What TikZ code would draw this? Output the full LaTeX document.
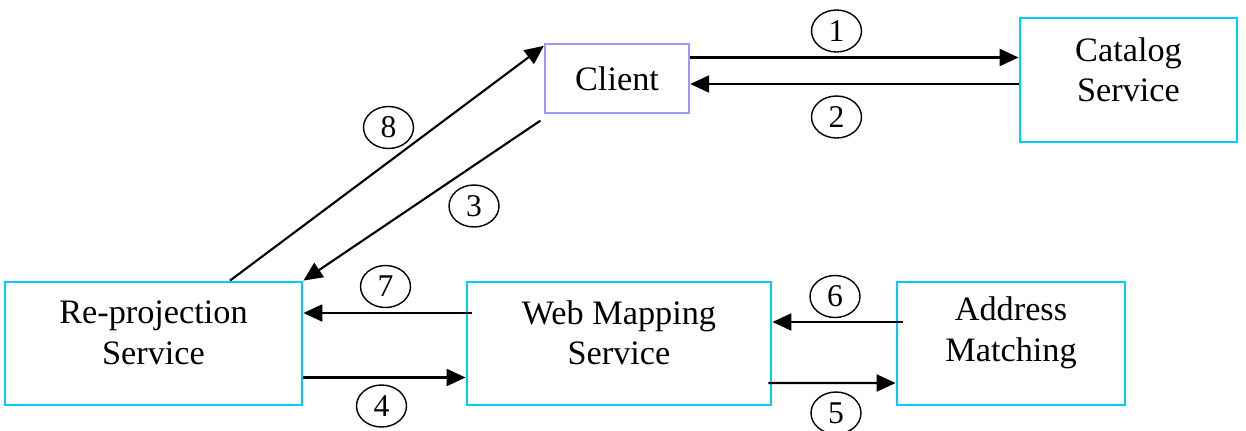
\documentclass[tikz,border=0pt]{standalone}
\usepackage{fontspec}
\setmainfont{Liberation Serif}
\usetikzlibrary{arrows.meta,shapes.geometric}
\definecolor{svccyan}{RGB}{0,204,255}
\definecolor{clientblue}{RGB}{153,153,255}

\begin{document}
\begin{tikzpicture}[
  svc box/.style={draw=svccyan, line width=1.6pt, minimum height=2.46cm},
  client box/.style={draw=clientblue, line width=1.3pt, minimum width=2.88cm, minimum height=1.38cm, font=\fontsize{19.5}{23}\selectfont},
  box text/.style={align=center, font=\fontsize{19.5}{23}\selectfont},
  step num/.style={ellipse, draw, line width=0.8pt, minimum width=1.0cm, minimum height=0.84cm, inner sep=0pt, font=\fontsize{18}{20}\selectfont},
  flow/.style={-{Triangle[length=0.38cm,width=0.34cm]}, line width=1.2pt}]

  \useasboundingbox (0,0) rectangle (24.92,-8.6);

  % services
  \node[client box] (client) at (12.34,-1.57) {Client};
  \node[svc box, minimum width=4.34cm, minimum height=2.48cm] (catalog) at (22.57,-1.6) {};
  \node[svc box, minimum width=5.94cm] (reproj) at (3.07,-6.87) {};
  \node[svc box, minimum width=6.08cm] (wms) at (12.38,-6.87) {};
  \node[svc box, minimum width=4.56cm] (address) at (20.22,-6.87) {};

  \node[box text] (catalogtext) at ([yshift=0.2cm]catalog.center) {Catalog\\Service};
  \node[box text] (reprojtext) at ([yshift=0.21cm]reproj.center) {Re-projection\\Service};
  \node[box text] (wmstext) at ([yshift=0.21cm]wms.center) {Web Mapping\\Service};
  \node[box text] (addresstext) at ([yshift=0.21cm]address.center) {Address\\Matching};

  % request order
  \node[step num] (n1) at (16.73,-0.62) {1};
  \node[step num] (n2) at (16.73,-2.34) {2};
  \node[step num] (n3) at (9.48,-4.12) {3};
  \node[step num] (n4) at (7.63,-8.12) {4};
  \node[step num] (n5) at (16.72,-8.26) {5};
  \node[step num] (n6) at (16.7,-5.93) {6};
  \node[step num] (n7) at (7.71,-5.73) {7};
  \node[step num] (n8) at (7.77,-2.55) {8};

  \draw[flow] ([yshift=0.42cm]client.east) -- ([yshift=0.42cm]client.east -| catalog.west);
  \draw[flow] ([yshift=-0.08cm]catalog.west) -- ([yshift=-0.08cm]catalog.west -| client.east);

  \draw[flow] ([shift={(-0.07,-0.13)}]client.south west) -- (reproj.north east);
  \draw[flow] ([xshift=1.53cm]reproj.north) -- ([yshift=-0.06cm]client.north west);

  \draw[flow] ([shift={(0.12,0.61)}]wms.west) -- ([yshift=0.61cm]reproj.east);
  \draw[flow] ([yshift=-0.68cm]reproj.east) -- ([yshift=-0.68cm]wms.west);

  \draw[flow] ([shift={(0.14,0.43)}]address.west) -- ([yshift=0.43cm]wms.east);
  \draw[flow] ([shift={(-0.08,-0.79)}]wms.east) -- ([yshift=-0.79cm]address.west);
\end{tikzpicture}
\end{document}
